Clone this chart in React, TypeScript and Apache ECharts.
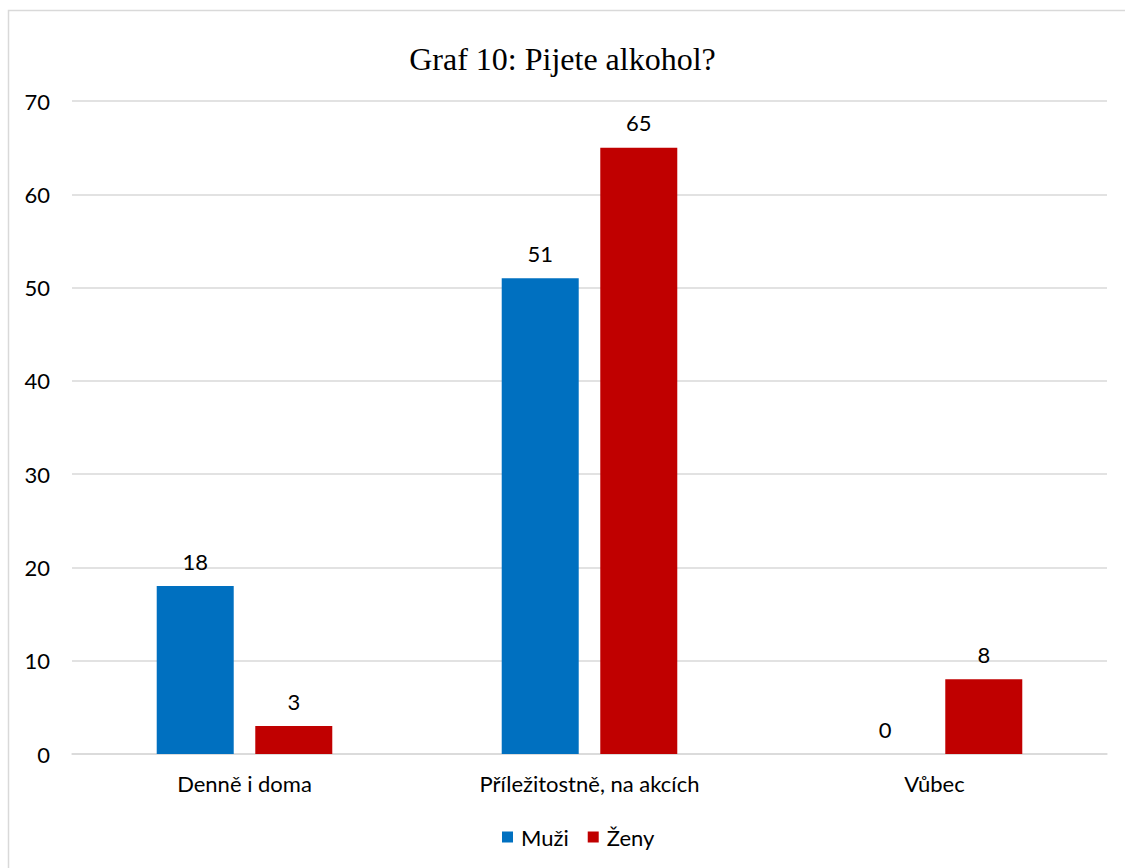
import React, { useEffect, useRef } from "react";
import * as echarts from "echarts";

const categories = ["Denně i doma", "Příležitostně, na akcích", "Vůbec"];
const muzi = [18, 51, 0];
const zeny = [3, 65, 8];
const seriesNames = ["Muži", "Ženy"];
const titleText = "Graf 10: Pijete alkohol?";

const labelFont = "Lato, 'Noto Sans', sans-serif";
const fs = 22;

export default function App() {
  const ref = useRef<HTMLDivElement>(null);
  useEffect(() => {
    if (!ref.current) return;
    const chart = echarts.init(ref.current, undefined, { renderer: "svg" });
    chart.setOption({
      animation: false,
      backgroundColor: "#ffffff",
      title: {
        text: titleText,
        left: "center",
        top: 38,
        textStyle: {
          fontFamily: "'Liberation Serif', 'Times New Roman', serif",
          fontSize: 32,
          fontWeight: "normal",
          color: "#000000",
        },
      },
      graphic: [
        {
          type: "rect",
          shape: { x: 8.5, y: 10.5, width: 1140, height: 880 },
          style: { fill: "none", stroke: "#d9d9d9", lineWidth: 1.5 },
          silent: true,
        },
      ],
      legend: {
        bottom: 15,
        left: 497,
        itemWidth: 11,
        itemHeight: 11,
        itemGap: 19,
        icon: "rect",
        textStyle: {
          fontFamily: labelFont,
          fontSize: fs,
          color: "#000",
          padding: [0, 0, 0, 3],
        },
        data: seriesNames,
      },
      grid: { left: 72, right: 18, top: 101, bottom: 114 },
      xAxis: {
        type: "category",
        data: categories,
        axisLine: { lineStyle: { color: "#d9d9d9", width: 1.5 } },
        axisTick: { show: false },
        axisLabel: {
          fontFamily: labelFont,
          fontSize: fs,
          color: "#000",
          margin: 18,
        },
      },
      yAxis: {
        type: "value",
        min: 0,
        max: 70,
        interval: 10,
        axisLine: { show: false },
        axisTick: { show: false },
        splitLine: { lineStyle: { color: "#d9d9d9", width: 1.5 } },
        axisLabel: {
          fontFamily: labelFont,
          fontSize: fs,
          color: "#000",
          margin: 22,
        },
      },
      series: [
        {
          name: seriesNames[0],
          type: "bar",
          data: muzi,
          barWidth: 77,
          barGap: "28%",
          itemStyle: { color: "#0070C0" },
          label: {
            show: true,
            position: "top",
            distance: 14,
            fontFamily: labelFont,
            fontSize: fs,
            color: "#000",
          },
        },
        {
          name: seriesNames[1],
          type: "bar",
          data: zeny,
          barWidth: 77,
          barGap: "28%",
          itemStyle: { color: "#C00000" },
          label: {
            show: true,
            position: "top",
            distance: 14,
            fontFamily: labelFont,
            fontSize: fs,
            color: "#000",
          },
        },
      ],
    });
    return () => chart.dispose();
  }, []);
  return (
    <div
      ref={ref}
      style={{ position: "absolute", left: 0, top: 0, width: 1125, height: 868 }}
    />
  );
}
